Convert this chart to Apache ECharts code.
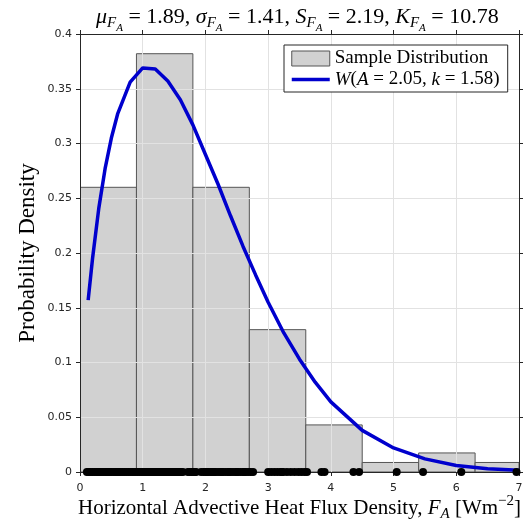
<!DOCTYPE html>
<html>
<head>
<meta charset="utf-8">
<title>Sample Distribution</title>
<script src="https://cdn.jsdelivr.net/npm/echarts@6/dist/echarts.min.js"></script>
<style>
html, body { margin: 0; padding: 0; background: #fff; }
#chartBody { width: 529px; height: 520px; }
</style>
</head>
<body>
<div id="chartBody"></div>
<script>
// histogram (bin edges + density per bin)
var binEdges = [0, 0.9, 1.8, 2.7, 3.6, 4.5, 5.4, 6.3, 7.2];
var binDensity = [0.26, 0.382, 0.26, 0.13, 0.043, 0.0087, 0.0174, 0.0087];

// fitted curve
var curveX = [0.13, 0.2, 0.3, 0.4, 0.5, 0.6, 0.8, 1.0, 1.2, 1.4, 1.6, 1.8, 2.0, 2.2, 2.4, 2.6, 2.8, 3.0, 3.25, 3.5, 3.75, 4.0, 4.5, 5.0, 5.5, 6.0, 6.5, 7.0];
var curveY = [0.157, 0.195, 0.241, 0.277, 0.305, 0.327, 0.356, 0.369, 0.368, 0.357, 0.34, 0.317, 0.29, 0.263, 0.234, 0.206, 0.18, 0.155, 0.127, 0.103, 0.082, 0.064, 0.038, 0.022, 0.012, 0.006, 0.003, 0.0015];

// samples shown as dots on the x axis
var samples = [
  0.11, 0.14, 0.17, 0.2, 0.23, 0.26, 0.29, 0.3, 0.32, 0.35, 0.38, 0.41, 0.44, 0.45, 0.47, 0.5, 0.53, 0.56, 0.59, 0.6, 0.62, 0.65, 0.68, 0.71, 0.74, 0.77, 0.8, 0.83, 0.86, 0.89,
  0.92, 0.95, 0.98, 1.0, 1.01, 1.03, 1.04, 1.05, 1.07, 1.1, 1.12, 1.13, 1.15, 1.16, 1.19, 1.2, 1.22, 1.24, 1.25, 1.27, 1.28, 1.31, 1.33, 1.34, 1.36, 1.37, 1.38, 1.4, 1.43, 1.45, 1.46, 1.48, 1.49, 1.5, 1.52, 1.55, 1.57, 1.58, 1.6, 1.61, 1.64, 1.72, 1.75, 1.78,
  1.81, 1.83, 1.85, 1.93, 1.97, 2.0, 2.02, 2.04, 2.08, 2.1, 2.12, 2.14, 2.16, 2.2, 2.24, 2.26, 2.28, 2.32, 2.36, 2.38, 2.4, 2.44, 2.48, 2.5, 2.52, 2.56, 2.6, 2.62, 2.64, 2.68,
  2.72, 2.76, 3.0, 3.05, 3.1, 3.15, 3.2, 3.22, 3.24, 3.3, 3.36, 3.42, 3.48, 3.53, 3.58,
  3.62, 3.85, 3.9, 4.36, 4.45,
  5.05, 5.47, 6.08, 6.96
];

var statNames = ['μ', 'σ', 'S', 'K'];
var statValues = ['1.89', '1.41', '2.19', '10.78'];
var fitA = 2.05;
var fitK = 1.58;

var serif = 'Liberation Serif';
var ink = '#262626';

function mathRich(size) {
  var base = { fontFamily: serif, fontWeight: 'normal', color: '#000', verticalAlign: 'top' };
  return {
    n: Object.assign({}, base, { fontSize: size, padding: [0, 0, 0, 0] }),
    i: Object.assign({}, base, { fontSize: size, fontStyle: 'italic', padding: [0, 0, 0, 0] }),
    s: Object.assign({}, base, { fontSize: Math.round(size * 0.7), fontStyle: 'italic', padding: [Math.round(size * 0.45), 0, 0, 0] }),
    ss: Object.assign({}, base, { fontSize: Math.round(size * 0.5), fontStyle: 'italic', padding: [Math.round(size * 0.78), 0, 0, 0] }),
    p: Object.assign({}, base, { fontSize: Math.round(size * 0.7), padding: [-Math.round(size * 0.2), 0, 0, 0] })
  };
}

var titleText = statNames.map(function (s, k) {
  return '{i|' + s + '}{s|F}{ss|A}{n| = ' + statValues[k] + (k < statNames.length - 1 ? ', ' : '') + '}';
}).join('');

var lineName = 'W(A = ' + fitA + ', k = ' + fitK + ')';
var barName = 'Sample Distribution';

var histData = binDensity.map(function (d, k) {
  return [binEdges[k], binEdges[k + 1], d];
});
var curveData = curveX.map(function (x, k) { return [x, curveY[k]]; });
var rugData = samples.map(function (x) { return [x, 0]; });

var myChart = echarts.init(document.getElementById('chartBody'));

var gridLine = { show: true, lineStyle: { color: '#e2e2e2', width: 1 } };

var option = {
  animation: false,
  backgroundColor: '#fff',
  title: {
    text: titleText,
    left: 91,
    top: 1,
    textStyle: { fontWeight: 'normal', rich: mathRich(22) }
  },
  grid: { left: 80, right: 10, top: 34, bottom: 48, containLabel: false, outerBoundsMode: 'none' },
  legend: {
    orient: 'vertical',
    left: 284,
    top: 45,
    itemWidth: 38,
    itemHeight: 15,
    itemGap: 2,
    padding: [4, 8, 3, 6],
    backgroundColor: '#fff',
    borderColor: ink,
    borderWidth: 1,
    borderRadius: 0,
    data: [
      { name: barName, icon: 'rect', itemStyle: { color: '#d1d1d1', borderColor: '#555', borderWidth: 1 } },
      { name: lineName, itemStyle: { color: '#0000cd', opacity: 0 }, lineStyle: { color: '#0000cd', width: 3.5 } }
    ],
    formatter: function (name) {
      if (name === lineName) {
        return '{i|W}{n|(}{i|A}{n| = ' + fitA + ', }{i|k}{n| = ' + fitK + ')}';
      }
      return '{n|' + name + '}';
    },
    textStyle: { rich: mathRich(19) }
  },
  xAxis: [{
    type: 'value',
    min: 0, max: 7, interval: 1,
    z: 3,
    name: '{n|Horizontal Advective Heat Flux Density, }{i|F}{s|A}{n| [Wm}{p|−2}{n|]}',
    nameLocation: 'middle',
    nameGap: 26,
    nameMoveOverlap: false,
    nameTextStyle: { rich: mathRich(21) },
    axisLine: { lineStyle: { color: ink } },
    axisTick: { inside: false, length: 4, lineStyle: { color: ink } },
    axisLabel: { margin: 11, color: ink, fontFamily: 'DejaVu Sans', fontSize: 11 },
    splitLine: gridLine
  }, {
    type: 'value',
    position: 'top',
    min: 0, max: 7, interval: 1,
    z: 3,
    axisLine: { show: true, onZero: false, lineStyle: { color: ink } },
    axisTick: { inside: false, length: 4, lineStyle: { color: ink } },
    axisLabel: { show: false },
    splitLine: { show: false }
  }],
  yAxis: [{
    type: 'value',
    min: 0, max: 0.4, interval: 0.05,
    z: 3,
    name: 'Probability Density',
    nameLocation: 'middle',
    nameGap: 41,
    nameMoveOverlap: false,
    nameRotate: 90,
    nameTextStyle: { fontFamily: serif, fontSize: 23, color: '#000' },
    axisLine: { show: true, lineStyle: { color: ink } },
    axisTick: { show: true, inside: false, length: 4, lineStyle: { color: ink } },
    axisLabel: { margin: 8, color: ink, fontFamily: 'DejaVu Sans', fontSize: 11 },
    splitLine: gridLine
  }, {
    type: 'value',
    position: 'right',
    min: 0, max: 0.4, interval: 0.05,
    z: 3,
    axisLine: { show: true, onZero: false, lineStyle: { color: ink } },
    axisTick: { show: true, inside: false, length: 4, lineStyle: { color: ink } },
    axisLabel: { show: false },
    splitLine: { show: false }
  }],
  series: [{
    name: barName,
    type: 'custom',
    z: 2,
    clip: true,
    itemStyle: { color: '#d1d1d1', borderColor: '#555', borderWidth: 1 },
    renderItem: function (params, api) {
      var p0 = api.coord([api.value(0), api.value(2)]);
      var p1 = api.coord([api.value(1), 0]);
      var rect = echarts.graphic.clipRectByRect(
        { x: p0[0], y: p0[1], width: p1[0] - p0[0], height: p1[1] - p0[1] },
        { x: params.coordSys.x, y: params.coordSys.y, width: params.coordSys.width, height: params.coordSys.height }
      );
      return rect && {
        type: 'rect',
        shape: rect,
        style: { fill: '#d1d1d1', stroke: '#555', lineWidth: 1 }
      };
    },
    encode: { x: [0, 1], y: 2 },
    data: histData
  }, {
    name: lineName,
    type: 'line',
    z: 5,
    symbol: 'none',
    smooth: false,
    lineStyle: { color: '#0000cd', width: 3.5 },
    itemStyle: { color: '#0000cd' },
    data: curveData
  }, {
    name: 'samples',
    type: 'scatter',
    z: 6,
    symbol: 'circle',
    symbolSize: 8,
    itemStyle: { color: '#000', opacity: 1 },
    data: rugData
  }]
};

myChart.setOption(option);
</script>
</body>
</html>
